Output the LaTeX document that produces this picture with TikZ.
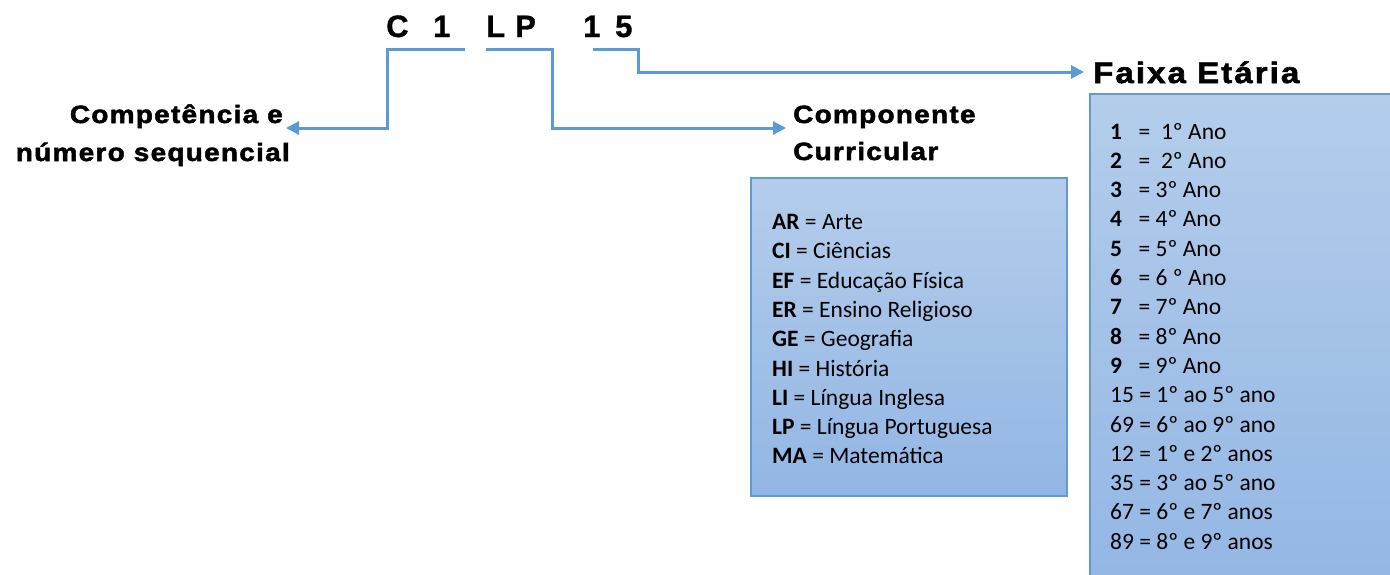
\documentclass[tikz,border=0pt]{standalone}
\usepackage{fontspec}
\setmainfont{Carlito}
\newfontfamily\hdfont[LetterSpace=5,FakeStretch=1.12,FakeBold=2]{Liberation Sans Bold}
\newfontfamily\bigfont[LetterSpace=7,FakeStretch=1.12,FakeBold=2]{Liberation Sans Bold}
\newfontfamily\codefont[FakeBold=1]{Liberation Sans Bold}
\usetikzlibrary{arrows.meta}
\definecolor{lineblue}{RGB}{91,155,213}
\definecolor{boxtop}{RGB}{180,205,235}
\definecolor{boxbot}{RGB}{146,182,228}
\definecolor{boxedge}{RGB}{98,152,212}
\tikzset{
  conn/.style={draw=lineblue, line width=3pt},
  arr/.style={conn, -{Triangle[length=13pt,width=13pt]}},
  code/.style={anchor=base west, inner sep=0pt, font=\codefont\fontsize{31}{31}\selectfont},
  head/.style={anchor=base west, inner sep=0pt, font=\hdfont\fontsize{25}{25}\selectfont},
  bighead/.style={anchor=base west, inner sep=0pt, font=\bigfont\fontsize{29.5}{29.5}\selectfont},
  panel/.style={draw=boxedge, line width=1.2pt, top color=boxtop, bottom color=boxbot},
  entry/.style={anchor=base west, inner sep=0pt, font=\fontsize{23.5}{23.5}\selectfont},
}
\newcommand{\fx}[2]{\makebox[28.5pt][l]{\textbf{#1}}#2}
\begin{document}
\begin{tikzpicture}[x=1pt,y=-1pt]
\useasboundingbox (0,0) rectangle (1390,574);
% panels
\path[panel] (751,178) rectangle (1067,496);
\path[panel] (1090,94) rectangle (1400,600);
% code letters
\node[code] (cC) at (386,37) {C};
\node[code] (c1) at (433,37) {1};
\node[code] (cL) at (486,37) {L};
\node[code] (cP) at (515,37) {P};
\node[code] (c15a) at (583,37) {1};
\node[code] (c15b) at (615,37) {5};
% headings
\node[head, anchor=base east] (comp1) at (283,123) {Competência e};
\node[head, anchor=base east] (comp2) at (290,161) {número sequencial};
\node[head] (cur1) at (793,123) {Componente};
\node[head] (cur2) at (793,160) {Curricular};
\node[bighead] (faixa) at (1093,83) {Faixa Etária};
% connector coordinates
\coordinate (a0) at (465,49.5);
\coordinate (a1) at (387,49.5);
\coordinate (a2) at (387,128);
\coordinate (a3) at (286,128);
\coordinate (b0) at (486,49.5);
\coordinate (b1) at (552.5,49.5);
\coordinate (b2) at (552.5,128);
\coordinate (b3) at (786,128);
\coordinate (d0) at (593,49.5);
\coordinate (d1) at (638.5,49.5);
\coordinate (d2) at (638.5,72);
\coordinate (d3) at (1084,72);
\draw[arr] (a0) -- (a1) -- (a2) -- (a3);
\draw[arr] (b0) -- (b1) -- (b2) -- (b3);
\draw[arr] (d0) -- (d1) -- (d2) -- (d3);
% componente entries
\foreach \t [count=\i from 0] in {{\textbf{AR} = Arte},{\textbf{CI} = Ciências},{\textbf{EF} = Educação Física},{\textbf{ER} = Ensino Religioso},{\textbf{GE} = Geografia},{\textbf{HI} = História},{\textbf{LI} = Língua Inglesa},{\textbf{LP} = Língua Portuguesa},{\textbf{MA} = Matemática}}
  \node[entry] (cc\i) at (772,229.5+29.3*\i) {\t};
% faixa entries
\foreach \t [count=\i from 0] in {{\fx{1}{=\ \ 1º Ano}},{\fx{2}{=\ \ 2º Ano}},{\fx{3}{= 3º Ano}},{\fx{4}{= 4º Ano}},{\fx{5}{= 5º Ano}},{\fx{6}{= 6 º Ano}},{\fx{7}{= 7º Ano}},{\fx{8}{= 8º Ano}},{\fx{9}{= 9º Ano}},{15 = 1º ao 5º ano},{69 = 6º ao 9º ano},{12 = 1º e 2º anos},{35 = 3º ao 5º ano},{67 = 6º e 7º anos},{89 = 8º e 9º anos}}
  \node[entry] (fx\i) at (1110,139+29.3*\i) {\t};
\end{tikzpicture}
\end{document}
